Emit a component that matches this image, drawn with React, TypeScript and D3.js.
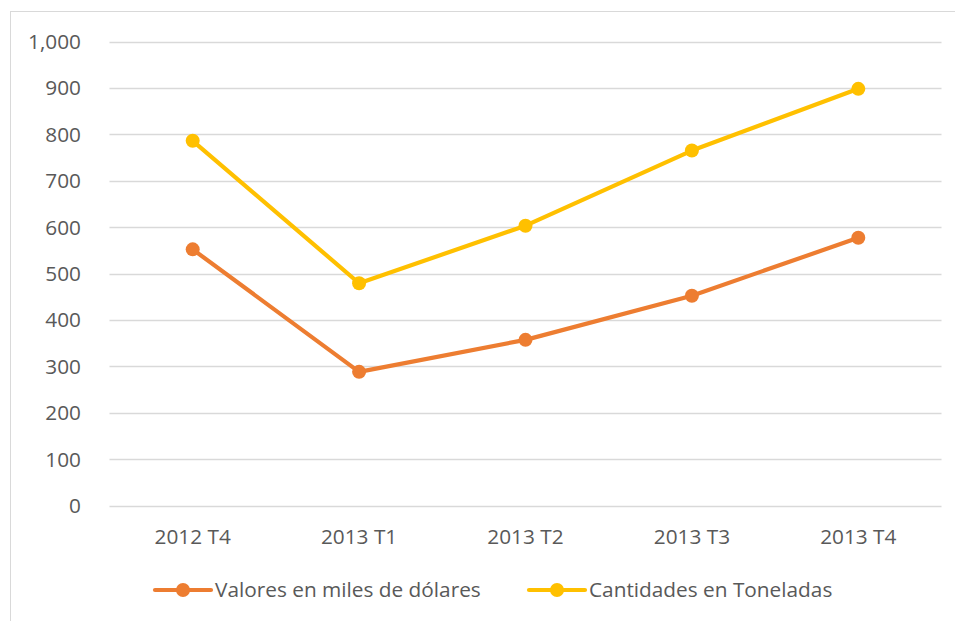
import React from "react";
import * as d3 from "d3";

const categories = ["2012 T4", "2013 T1", "2013 T2", "2013 T3", "2013 T4"];
const valores = [552, 288, 357, 452, 577];
const cantidades = [786, 479, 603, 765, 898];
const yTicks = [0, 100, 200, 300, 400, 500, 600, 700, 800, 900, 1000];
const seriesNames = ["Valores en miles de dólares", "Cantidades en Toneladas"];
const seriesColors = ["#ED7D31", "#FFC000"];

const W = 955;
const H = 621;
const FONT = "'Open Sans', Lato, sans-serif";
const FS = 20.8;

export default function App() {
  const x = d3.scaleBand<string>().domain(categories).range([109.5, 941.5]);
  const y = d3.scaleLinear().domain([0, 1000]).range([505.5, 41.5]);
  const line = d3
    .line<number>()
    .x((_, i) => (x(categories[i]) as number) + x.bandwidth() / 2)
    .y((d) => y(d));
  const fmt = d3.format(",");
  const series = [valores, cantidades];
  const legendX = [155, 529];

  return (
    <svg
      width={W}
      height={H}
      style={{ position: "absolute", left: 0, top: 0, background: "#fff" }}
      fontFamily={FONT}
    >
      <rect x={10.5} y={11.5} width={W + 20} height={H + 20} fill="#fff" stroke="#d9d9d9" strokeWidth={1} />
      {yTicks.map((t) => (
        <g key={t}>
          <line x1={109.5} x2={941.5} y1={Math.round(y(t)) + 0.5} y2={Math.round(y(t)) + 0.5} stroke="#d9d9d9" strokeWidth={1.3} />
          <text x={81} y={y(t) + 7.5} textAnchor="end" fontSize={FS} fill="#595959">
            {fmt(t)}
          </text>
        </g>
      ))}
      {categories.map((c) => (
        <text key={c} x={(x(c) as number) + x.bandwidth() / 2} y={544} textAnchor="middle" fontSize={FS} fill="#595959">
          {c}
        </text>
      ))}
      {series.map((s, k) => (
        <g key={k}>
          <path d={line(s) || ""} fill="none" stroke={seriesColors[k]} strokeWidth={4.2} strokeLinejoin="round" strokeLinecap="round" />
          {s.map((v, i) => (
            <circle key={i} cx={(x(categories[i]) as number) + x.bandwidth() / 2} cy={y(v)} r={7} fill={seriesColors[k]} />
          ))}
        </g>
      ))}
      {seriesNames.map((n, k) => (
        <g key={n}>
          <line x1={legendX[k]} x2={legendX[k] + 56} y1={590} y2={590} stroke={seriesColors[k]} strokeWidth={4.2} strokeLinecap="round" />
          <circle cx={legendX[k] + 28} cy={590} r={7} fill={seriesColors[k]} />
          <text x={legendX[k] + 60} y={597} fontSize={FS} fill="#595959">
            {n}
          </text>
        </g>
      ))}
    </svg>
  );
}
